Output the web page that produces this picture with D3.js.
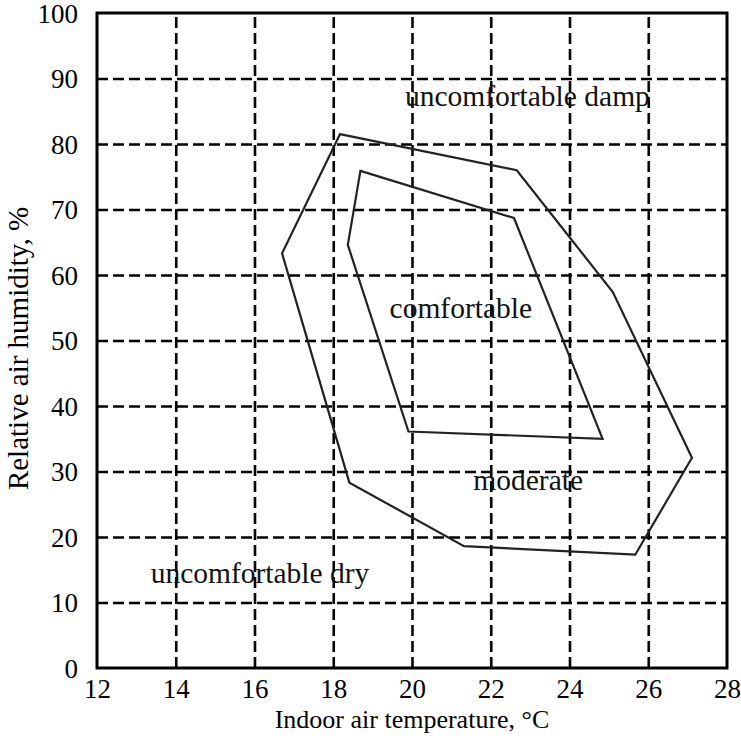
<!DOCTYPE html>
<html>
<head>
<meta charset="utf-8">
<script src="https://cdn.jsdelivr.net/npm/d3@7"></script>
<style>
  body { margin: 0; background: #fff; }
  svg { display: block; }
  svg text { font-family: "Liberation Serif", "Times New Roman", serif !important; }
</style>
</head>
<body>
<svg id="chart" width="741" height="742"></svg>
<script>
// tick values
let x_ticks = [12, 14, 16, 18, 20, 22, 24, 26, 28],
    y_ticks = [0, 10, 20, 30, 40, 50, 60, 70, 80, 90, 100];

// outer contour (moderate zone), [temperature, humidity]
let outer_t = [18.17, 22.66, 25.10, 27.11, 25.67, 21.32, 18.41, 16.70],
    outer_h = [81.5, 76.0, 57.4, 32.1, 17.3, 18.6, 28.3, 63.3];

// inner contour (comfortable zone)
let inner_t = [18.69, 22.59, 24.84, 19.91, 18.37],
    inner_h = [75.9, 68.7, 35.0, 36.1, 64.6];

// zone labels
let zone_names = ["uncomfortable damp", "comfortable", "moderate", "uncomfortable dry"],
    zone_t = [22.93, 21.24, 22.95, 16.14],
    zone_h = [85.8, 53.4, 27.2, 13.0];

let margins = {top: 13, bottom: 74, left: 97, right: 14},
    width = 741,
    height = 742;

let x = d3.scaleLinear().domain([12, 28]).range([margins.left, width - margins.right]),
    y = d3.scaleLinear().domain([0, 100]).range([height - margins.bottom, margins.top]);

let svg = d3.select("#chart");

// dashed grid
let grid = svg.append("g").attr("id", "grid");
grid.append("g")
  .attr("transform", `translate(0,${y(0)})`)
  .call(d3.axisBottom(x).tickValues(x_ticks.slice(1, -1)).tickSize(-(y(0) - y(100))).tickFormat(""));
grid.append("g")
  .attr("transform", `translate(${x(12)},0)`)
  .call(d3.axisLeft(y).tickValues(y_ticks.slice(1, -1)).tickSize(-(x(28) - x(12))).tickFormat(""));
grid.selectAll(".domain").remove();
grid.selectAll("line")
  .attr("stroke", "#000")
  .attr("stroke-width", 2.6)
  .attr("stroke-dasharray", "11,5");

// tick labels
let x_axis = svg.append("g")
  .attr("transform", `translate(0,${y(0)})`)
  .call(d3.axisBottom(x).tickValues(x_ticks).tickSize(0).tickPadding(11));
let y_axis = svg.append("g")
  .attr("transform", `translate(${x(12)},0)`)
  .call(d3.axisLeft(y).tickValues(y_ticks).tickSize(0).tickPadding(19));
[x_axis, y_axis].forEach(a => {
  a.select(".domain").remove();
  a.selectAll("text")
    .attr("font-size", 27)
    .attr("fill", "#000");
});
y_axis.selectAll("text").attr("dy", "0.34em");

// frame
svg.append("rect")
  .attr("x", x(12))
  .attr("y", y(100))
  .attr("width", x(28) - x(12))
  .attr("height", y(0) - y(100))
  .attr("fill", "none")
  .attr("stroke", "#000")
  .attr("stroke-width", 3);

// contours
let line = d3.line()
  .x(d => x(d[0]))
  .y(d => y(d[1]))
  .curve(d3.curveLinearClosed);

let contours = [
  outer_t.map((t, i) => [t, outer_h[i]]),
  inner_t.map((t, i) => [t, inner_h[i]])
];

svg.append("g")
  .selectAll("path")
  .data(contours).enter()
  .append("path")
  .attr("d", line)
  .attr("fill", "none")
  .attr("stroke", "#222")
  .attr("stroke-width", 2.2);

// zone labels
svg.append("g")
  .selectAll("text")
  .data(zone_names).enter()
  .append("text")
  .attr("x", (d, i) => x(zone_t[i]))
  .attr("y", (d, i) => y(zone_h[i]))
  .attr("text-anchor", "middle")
  .attr("font-size", 29.5)
  .attr("fill", "#111")
  .text(d => d);

// axis titles
svg.append("text")
  .attr("x", (x(12) + x(28)) / 2)
  .attr("y", 728)
  .attr("text-anchor", "middle")
  .attr("font-size", 26)
  .text("Indoor air temperature, °C");

svg.append("text")
  .attr("transform", `translate(28,${(y(0) + y(100)) / 2 + 8}) rotate(-90)`)
  .attr("text-anchor", "middle")
  .attr("font-size", 29)
  .text("Relative air humidity, %");
</script>
</body>
</html>
